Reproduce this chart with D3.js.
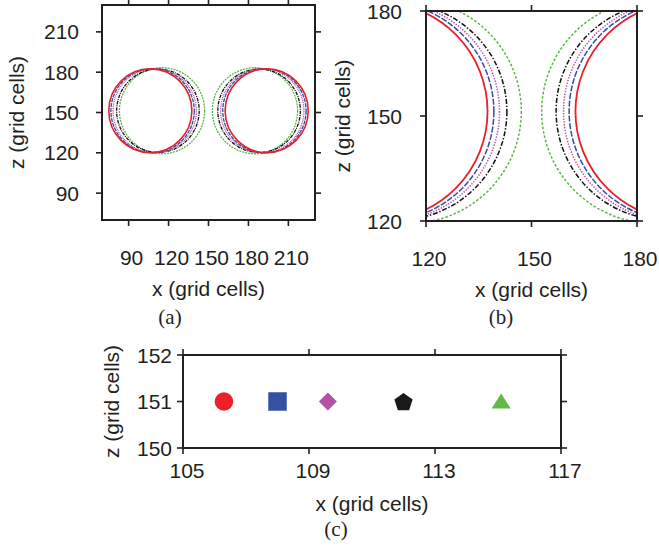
<!DOCTYPE html>
<html>
<head>
<meta charset="utf-8">
<script src="https://cdn.jsdelivr.net/npm/d3@7"></script>
<style>
  html, body { margin: 0; padding: 0; background: #fff; }
  svg { display: block; }
  text { font-family: "Liberation Sans", Arial, Helvetica, sans-serif; fill: #231f20; }
  .cap { font-family: "Liberation Serif", "DejaVu Serif", serif; }
</style>
</head>
<body>
<svg id="chart" width="659" height="545"></svg>
<script>
// ---------------- data ----------------
const seriesColors   = ["#e8202a", "#3150a2", "#b953ab", "#111111", "#5cb648"];
const seriesDash     = [null, "6,1.6", "1.4,1.4", "5,1.8,1.4,1.8", "2.6,1.8"];
const seriesDashSmall = [null, "4,1", "1,0.8", "3.5,1,1,1", "2,1"];
// droplet contours: centre x (left / right droplet), centre z, radius (grid cells)
const leftCentreX    = [106.3, 108.0, 109.6, 112.0, 115.1];
const rightCentreX   = [193.7, 192.0, 190.4, 188.0, 184.9];
const centreZ        = [151.3, 151.3, 151.3, 151.3, 151.3];
const dropRadius     = [31.2, 31.3, 31.3, 31.0, 32.0];
// panel (c): centre-of-mass positions
const markerX        = [106.3, 108.0, 109.6, 112.0, 115.1];
const markerZ        = [151, 151, 151, 151, 151];
const markerShapes   = ["circle", "square", "diamond", "pentagon", "triangle"];
const markerColors   = ["#ee2027", "#3451a3", "#b452a3", "#1a1a1a", "#63b846"];
// axes
const ticksA = [90, 120, 150, 180, 210];
const ticksB = [120, 150, 180];
const ticksCx = [105, 109, 113, 117];
const ticksCz = [150, 151, 152];
const axisTitleX = "x (grid cells)";
const axisTitleZ = "z (grid cells)";

// ---------------- drawing ----------------
const svg = d3.select("#chart");
const TICK = 6;

function panel(cfg) {
  const g = svg.append("g");
  const x = d3.scaleLinear().domain(cfg.xDomain).range([cfg.x0, cfg.x1]);
  const y = d3.scaleLinear().domain(cfg.yDomain).range([cfg.y1, cfg.y0]);
  cfg.xTicks.forEach(t => {
    g.append("line").attr("x1", x(t)).attr("x2", x(t)).attr("y1", cfg.y1).attr("y2", cfg.y1 + TICK)
      .attr("stroke", "#231f20").attr("stroke-width", 1.6);
    g.append("line").attr("x1", x(t)).attr("x2", x(t)).attr("y1", cfg.y0).attr("y2", cfg.y0 - TICK)
      .attr("stroke", "#231f20").attr("stroke-width", 1.6);
    g.append("text").attr("x", x(t) + cfg.xLabDx).attr("y", cfg.xLabY)
      .attr("text-anchor", "middle").attr("font-size", 21).text(t);
  });
  cfg.yTicks.forEach(t => {
    g.append("line").attr("x1", cfg.x0).attr("x2", cfg.x0 - TICK).attr("y1", y(t)).attr("y2", y(t))
      .attr("stroke", "#231f20").attr("stroke-width", 1.6);
    g.append("line").attr("x1", cfg.x1).attr("x2", cfg.x1 + TICK).attr("y1", y(t)).attr("y2", y(t))
      .attr("stroke", "#231f20").attr("stroke-width", 1.6);
    g.append("text").attr("x", cfg.yLabX).attr("y", y(t)).attr("dy", "0.36em")
      .attr("text-anchor", "end").attr("font-size", 21).text(t);
  });
  g.append("text").attr("x", (cfg.x0 + cfg.x1) / 2).attr("y", cfg.xTitleY)
    .attr("text-anchor", "middle").attr("font-size", 21).text(axisTitleX);
  g.append("text").attr("transform", `translate(${cfg.yTitleX},${(cfg.y0 + cfg.y1) / 2}) rotate(-90)`)
    .attr("text-anchor", "middle").attr("font-size", 21).text(axisTitleZ);
  g.append("text").attr("class", "cap").attr("x", cfg.capX).attr("y", cfg.capY)
    .attr("text-anchor", "middle").attr("font-size", 21).text(cfg.caption);
  return { g, x, y };
}

function frame(p, cfg) {
  p.g.append("rect").attr("x", cfg.x0).attr("y", cfg.y0)
    .attr("width", cfg.x1 - cfg.x0).attr("height", cfg.y1 - cfg.y0)
    .attr("fill", "none").attr("stroke", "#231f20").attr("stroke-width", 2);
}

function droplets(p, cfg, clipId, sw, dashes) {
  let layer = p.g.append("g");
  if (clipId) {
    svg.append("defs").append("clipPath").attr("id", clipId).append("rect")
      .attr("x", cfg.x0).attr("y", cfg.y0).attr("width", cfg.x1 - cfg.x0).attr("height", cfg.y1 - cfg.y0);
    layer.attr("clip-path", `url(#${clipId})`);
  }
  const idx = d3.range(seriesColors.length).reverse();
  idx.forEach(i => {
    [leftCentreX[i], rightCentreX[i]].forEach(cx => {
      layer.append("ellipse")
        .attr("cx", p.x(cx)).attr("cy", p.y(centreZ[i]))
        .attr("rx", p.x(cx + dropRadius[i]) - p.x(cx))
        .attr("ry", p.y(centreZ[i] - dropRadius[i]) - p.y(centreZ[i]))
        .attr("fill", "none").attr("stroke", seriesColors[i])
        .attr("stroke-width", i === 0 ? sw + 0.3 : sw)
        .attr("stroke-dasharray", dashes[i]);
    });
  });
}

// ---- panel (a)
const cfgA = { x0: 102, x1: 315, y0: 5, y1: 220, xDomain: [70, 230], yDomain: [70, 230],
  xTicks: ticksA, yTicks: ticksA, xLabY: 265, xLabDx: 3, yLabX: 79, xTitleY: 296, yTitleX: 24,
  capX: 170, capY: 324, caption: "(a)" };
const pA = panel(cfgA);
droplets(pA, cfgA, null, 1.3, seriesDashSmall);
frame(pA, cfgA);

// ---- panel (b)
const cfgB = { x0: 426, x1: 637, y0: 11, y1: 221, xDomain: [120, 180], yDomain: [120, 180],
  xTicks: ticksB, yTicks: ticksB, xLabY: 266, xLabDx: 3, yLabX: 402, xTitleY: 297, yTitleX: 350,
  capX: 501, capY: 324, caption: "(b)" };
const pB = panel(cfgB);
droplets(pB, cfgB, "clipB", 1.5, seriesDash);
frame(pB, cfgB);

// ---- panel (c)
const cfgC = { x0: 183, x1: 561, y0: 355, y1: 448, xDomain: [105, 117], yDomain: [150, 152],
  xTicks: ticksCx, yTicks: ticksCz, xLabY: 478, xLabDx: 4, yLabX: 172, xTitleY: 511, yTitleX: 119,
  capX: 336, capY: 536, caption: "(c)" };
const pC = panel(cfgC);
frame(pC, cfgC);

function markerPath(shape) {
  switch (shape) {
    case "circle":   return d3.symbol(d3.symbolCircle, Math.PI * 9.3 * 9.3)();
    case "square":   return d3.symbol(d3.symbolSquare, 18.5 * 18.5)();
    case "diamond":  return "M0,-9L9,0L0,9L-9,0Z";
    case "pentagon": {
      const r = 9.6;
      const pts = d3.range(5).map(k => {
        const a = -Math.PI / 2 + k * 2 * Math.PI / 5;
        return [r * Math.cos(a), r * Math.sin(a) + 1];
      });
      return "M" + pts.map(q => q.join(",")).join("L") + "Z";
    }
    case "triangle": return "M0,-8L9.5,7L-9.5,7Z";
  }
}
markerX.forEach((v, i) => {
  pC.g.append("path").attr("d", markerPath(markerShapes[i]))
    .attr("transform", `translate(${pC.x(v)},${pC.y(markerZ[i])})`)
    .attr("fill", markerColors[i]);
});
</script>
</body>
</html>
